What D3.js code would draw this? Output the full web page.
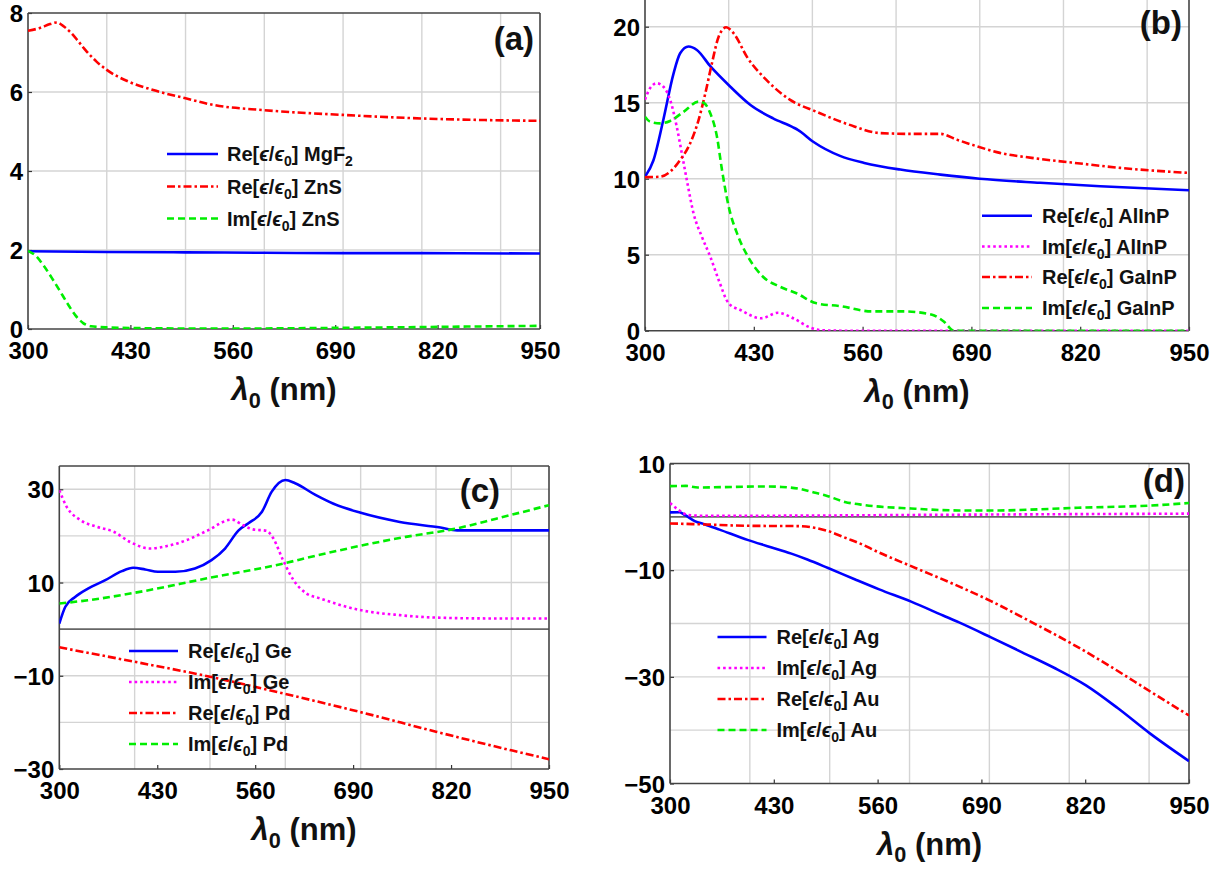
<!DOCTYPE html>
<html><head><meta charset="utf-8">
<script src="https://cdn.jsdelivr.net/npm/d3@7"></script>
<style>body{margin:0;background:#fff}svg{display:block}</style>
</head><body>
<svg id="chart" width="1225" height="871"></svg>
<script>
// ---------------- DATA ----------------
const xTicks = [300, 430, 560, 690, 820, 950];
const xGrid = [400, 500, 600, 700, 800, 900];

const aYTicks = [0, 2, 4, 6, 8];
const aYGrid = [2, 4, 6];
const bYTicks = [0, 5, 10, 15, 20];
const bYGrid = [5, 10, 15, 20];
const cYTicks = [-30, -10, 10, 30];
const cYGrid = [-20, -10, 10, 20, 30];
const dYTicks = [-50, -30, -10, 10];
const dYGrid = [-40, -30, -20, -10];

// (a)
const reMgF2 = [[300,1.97],[400,1.95],[500,1.94],[600,1.93],[700,1.92],[800,1.92],[950,1.91]];
const reZnS = [[300,7.55],[315,7.62],[328,7.72],[337,7.76],[346,7.65],[355,7.49],[364,7.28],[373,7.06],[387,6.77],[400,6.56],[428,6.26],[459,6.05],[500,5.84],[536,5.67],[600,5.54],[700,5.42],[800,5.33],[880,5.29],[950,5.27]];
const imZnS = [[300,1.98],[310,1.85],[320,1.6],[330,1.3],[340,0.98],[350,0.65],[360,0.35],[370,0.15],[380,0.07],[400,0.04],[450,0.02],[550,0.01],[700,0.03],[850,0.06],[950,0.08]];

// (b)
const reAlInP = [[300,10.13],[310,11.2],[322,13.9],[334,16.9],[342,18.25],[352,18.7],[362,18.47],[378,17.4],[402,16.05],[426,14.85],[453,13.97],[477,13.38],[483,13.2],[501,12.43],[533,11.5],[562,11.04],[605,10.6],[653,10.27],[700,10.0],[772,9.73],[844,9.5],[950,9.24]];
const imAlInP = [[300,15.2],[306,15.95],[314,16.28],[322,16.05],[330,15.2],[338,13.4],[344,11.67],[350,9.9],[358,7.72],[368,6.18],[378,4.87],[388,3.34],[400,1.8],[414,1.36],[439,0.82],[459,1.18],[477,0.82],[497,0.22],[511,0.03],[540,0],[700,0],[950,0]];
const reGaInP = [[300,10.1],[318,10.13],[330,10.46],[342,11.23],[354,12.33],[364,13.86],[372,15.6],[380,17.6],[388,19.34],[397,19.96],[406,19.56],[422,18.0],[445,16.5],[473,15.2],[505,14.4],[543,13.57],[581,13.0],[619,12.95],[653,12.95],[672,12.58],[696,12.14],[724,11.7],[762,11.37],[820,11.0],[868,10.71],[950,10.38]];
const imGaInP = [[300,14.08],[306,13.75],[318,13.64],[330,13.8],[346,14.4],[364,15.07],[370,15.0],[378,14.3],[386,12.76],[392,10.57],[400,8.16],[410,6.4],[423,4.87],[441,3.55],[461,2.9],[481,2.46],[505,1.8],[533,1.62],[571,1.27],[609,1.27],[643,1.05],[657,0.61],[669,0],[700,0],[950,0]];

// (c)
const reGe = [[300,1.2],[308,4.8],[321,6.9],[338,8.7],[361,10.5],[383,12.45],[398,13.16],[414,12.8],[431,12.3],[454,12.3],[480,13.0],[502,14.8],[520,17.3],[538,21.2],[551,22.7],[569,25.2],[582,29.5],[600,32.0],[613,31.3],[640,28.8],[664,26.9],[699,25.0],[752,23.0],[806,21.8],[828,21.2],[860,21.2],[950,21.2]];
const imGe = [[300,29.8],[310,26.2],[328,23.4],[350,21.95],[372,20.9],[394,18.7],[420,17.3],[442,17.8],[469,19.1],[496,21.1],[529,23.5],[544,22.3],[557,21.4],[575,21.1],[584,19.5],[597,14.8],[611,10.5],[628,7.66],[646,6.6],[699,4.1],[752,3.0],[797,2.5],[870,2.3],[950,2.3]];
const rePd = [[300,-3.9],[400,-7.0],[500,-10.2],[600,-13.9],[700,-17.8],[800,-22.0],[900,-26.0],[950,-27.9]];
const imPd = [[300,5.5],[338,6.2],[400,7.8],[496,10.9],[598,14.1],[620,14.96],[700,17.9],[760,19.8],[823,21.46],[880,23.7],[950,26.6]];

// (d)
const reAg = [[300,0.83],[312,0.85],[319,0.32],[331,-0.8],[344,-1.43],[362,-2.4],[398,-4.37],[422,-5.5],[452,-6.9],[472,-8.0],[498,-9.6],[532,-11.75],[562,-13.6],[602,-15.9],[642,-18.5],[662,-19.8],[702,-22.6],[741,-25.4],[781,-28.3],[821,-31.6],[861,-35.9],[901,-40.6],[950,-45.8]];
const imAg = [[300,2.6],[311,1.26],[323,0.32],[340,0.2],[450,0.22],[600,0.35],[800,0.5],[950,0.6]];
const reAu = [[300,-1.24],[344,-1.43],[398,-1.68],[460,-1.74],[481,-2.05],[498,-2.67],[519,-3.9],[544,-5.4],[552,-6.0],[602,-9.25],[652,-12.4],[702,-15.8],[751,-19.6],[801,-23.6],[851,-28.0],[901,-32.7],[950,-37.25]];
const imAu = [[300,5.76],[320,5.8],[335,5.5],[377,5.6],[419,5.7],[440,5.6],[460,5.3],[482,4.5],[494,4.06],[519,2.8],[544,2.2],[602,1.56],[662,1.2],[712,1.2],[761,1.4],[811,1.7],[861,1.9],[901,2.1],[950,2.6]];

// ---------------- STYLES ----------------
const STY = {
  blue:    {color: "#0000ff", dash: null},
  magenta: {color: "#ff00ff", dash: "2.6,3"},
  red:     {color: "#ff0000", dash: "8,3,2.5,3"},
  green:   {color: "#00ee00", dash: "7,4"}
};

function lab(pre, mat, matSub) {
  const p = [{t: pre + "["}, {t:"\u03F5", it:true}, {t:"/"}, {t:"\u03F5", it:true}, {t:"0", sub:true}, {t:"] " + mat}];
  if (matSub) p.push({t: matSub, sub:true});
  return p;
}

const panels = [
  {id:"(a)", x0:28, x1:540, yb:329, yt:13, dom:[0,8], yTicks:aYTicks, yGrid:aYGrid, zero:false,
   tag:[534,50],
   leg:{lx:[167,218], tx:227, ys:[154,186.5,218.5]},
   series:[
     {d:reMgF2, s:"blue", lab:lab("Re","MgF","2")},
     {d:reZnS, s:"red", lab:lab("Re","ZnS")},
     {d:imZnS, s:"green", lab:lab("Im","ZnS")}
   ]},
  {id:"(b)", x0:645, x1:1189, yb:330.7, yt:330.7-22*15.2, dom:[0,22], yTicks:bYTicks, yGrid:bYGrid, zero:false,
   tag:[1182,34], noTop:true,
   leg:{lx:[982,1032], tx:1042, ys:[215.7,246.5,277,308]},
   series:[
     {d:reAlInP, s:"blue", lab:lab("Re","AlInP")},
     {d:imAlInP, s:"magenta", lab:lab("Im","AlInP")},
     {d:reGaInP, s:"red", lab:lab("Re","GaInP")},
     {d:imGaInP, s:"green", lab:lab("Im","GaInP")}
   ]},
  {id:"(c)", x0:59.3, x1:549, yb:769, yt:466, dom:[-30,35], yTicks:cYTicks, yGrid:cYGrid, zero:true,
   tag:[500,502],
   leg:{lx:[129,178], tx:188, ys:[651,682,713,744]},
   series:[
     {d:reGe, s:"blue", lab:lab("Re","Ge")},
     {d:imGe, s:"magenta", lab:lab("Im","Ge")},
     {d:rePd, s:"red", lab:lab("Re","Pd")},
     {d:imPd, s:"green", lab:lab("Im","Pd")}
   ]},
  {id:"(d)", x0:670, x1:1189, yb:783.5, yt:463.5, dom:[-50,10], yTicks:dYTicks, yGrid:dYGrid, zero:true,
   tag:[1185,492],
   leg:{lx:[717.5,766.5], tx:776.5, ys:[637,668,699,730]},
   series:[
     {d:reAg, s:"blue", lab:lab("Re","Ag")},
     {d:imAg, s:"magenta", lab:lab("Im","Ag")},
     {d:reAu, s:"red", lab:lab("Re","Au")},
     {d:imAu, s:"green", lab:lab("Im","Au")}
   ]}
];

const FONT = "'Liberation Sans', Arial, 'DejaVu Sans', sans-serif";
const svg = d3.select("#chart");
svg.append("rect").attr("width",1225).attr("height",871).attr("fill","#fff");

function richText(sel, parts, size) {
  parts.forEach((p, i) => {
    const ts = sel.append("tspan").text(p.t);
    if (p.it) ts.attr("font-style","italic");
    if (p.sub) {
      ts.attr("font-size", size*0.7).attr("dy", size*0.25);
    } else if (i > 0 && parts[i-1].sub) {
      ts.attr("dy", -size*0.25);
    }
  });
}

panels.forEach((P, pi) => {
  const x = d3.scaleLinear().domain([300,950]).range([P.x0, P.x1]);
  const y = d3.scaleLinear().domain(P.dom).range([P.yb, P.yt]);
  const g = svg.append("g");
  const clipId = "clip" + pi;
  svg.append("clipPath").attr("id", clipId).append("rect")
    .attr("x", P.x0).attr("y", Math.max(0, P.yt)).attr("width", P.x1 - P.x0).attr("height", P.yb - Math.max(0, P.yt));

  // grid
  g.selectAll(".vg").data(xGrid).enter().append("line")
    .attr("x1", d => x(d)).attr("x2", d => x(d)).attr("y1", P.yb).attr("y2", Math.max(0,P.yt))
    .attr("stroke", "#d4d4d4").attr("stroke-width", 1.4);
  g.selectAll(".hg").data(P.yGrid).enter().append("line")
    .attr("x1", P.x0).attr("x2", P.x1).attr("y1", d => y(d)).attr("y2", d => y(d))
    .attr("stroke", "#d4d4d4").attr("stroke-width", 1.4);

  if (P.zero) {
    g.append("line").attr("x1", P.x0).attr("x2", P.x1).attr("y1", y(0)).attr("y2", y(0))
      .attr("stroke", "#666").attr("stroke-width", 1.8);
  }

  // axes via d3
  const xAxis = d3.axisBottom(x).tickValues(xTicks).tickSize(-4).tickPadding(0).tickFormat(d3.format("d"));
  const ax = g.append("g").attr("transform", `translate(0,${P.yb})`).call(xAxis);
  ax.select(".domain").remove();
  ax.selectAll(".tick line").attr("stroke", "#333").attr("stroke-width", 1.2);
  ax.selectAll(".tick text").attr("font-family", FONT).attr("font-weight", "bold").attr("font-size", 24)
    .attr("fill", "#000").attr("dy", null).attr("y", 30);

  const yAxis = d3.axisLeft(y).tickValues(P.yTicks).tickSize(-4).tickPadding(0)
    .tickFormat(d => d < 0 ? "\u2212" + Math.abs(d) : String(d));
  const ay = g.append("g").attr("transform", `translate(${P.x0},0)`).call(yAxis);
  ay.select(".domain").remove();
  ay.selectAll(".tick line").attr("stroke", "#333").attr("stroke-width", 1.2);
  ay.selectAll(".tick text").attr("font-family", FONT).attr("font-weight", "bold").attr("font-size", 24)
    .attr("fill", "#000").attr("x", -5).attr("dy", "0.36em");

  // frame
  const fr = "#444";
  g.append("line").attr("x1", P.x0).attr("x2", P.x0).attr("y1", P.yb).attr("y2", Math.max(0,P.yt)).attr("stroke", fr).attr("stroke-width", 1.6);
  g.append("line").attr("x1", P.x1).attr("x2", P.x1).attr("y1", P.yb).attr("y2", Math.max(0,P.yt)).attr("stroke", fr).attr("stroke-width", 1.6);
  g.append("line").attr("x1", P.x0).attr("x2", P.x1).attr("y1", P.yb).attr("y2", P.yb).attr("stroke", fr).attr("stroke-width", 1.6);
  if (!P.noTop) g.append("line").attr("x1", P.x0).attr("x2", P.x1).attr("y1", P.yt).attr("y2", P.yt).attr("stroke", fr).attr("stroke-width", 1.6);

  // curves
  const line = d3.line().x(d => x(d[0])).y(d => y(d[1])).curve(d3.curveMonotoneX);
  const cg = g.append("g").attr("clip-path", `url(#${clipId})`);
  P.series.forEach(s => {
    const st = STY[s.s];
    cg.append("path").datum(s.d).attr("d", line).attr("fill", "none")
      .attr("stroke", st.color).attr("stroke-width", 2.6)
      .attr("stroke-dasharray", st.dash);
  });

  // legend
  P.series.forEach((s, i) => {
    const st = STY[s.s];
    const yy = P.leg.ys[i];
    g.append("line").attr("x1", P.leg.lx[0]).attr("x2", P.leg.lx[1]).attr("y1", yy).attr("y2", yy)
      .attr("stroke", st.color).attr("stroke-width", 2.6).attr("stroke-dasharray", st.dash);
    const t = g.append("text").attr("x", P.leg.tx).attr("y", yy + 7)
      .attr("font-family", FONT).attr("font-weight", "bold").attr("font-size", 20).attr("fill", "#111");
    richText(t, s.lab, 20);
  });

  // panel tag
  g.append("text").attr("x", P.tag[0]).attr("y", P.tag[1]).attr("text-anchor", "end")
    .attr("font-family", FONT).attr("font-weight", "bold").attr("font-size", 33).attr("fill", "#111").text(P.id);

  // axis title
  const tt = g.append("text").attr("x", (P.x0 + P.x1) / 2).attr("y", P.yb + 71).attr("text-anchor", "middle")
    .attr("font-family", FONT).attr("font-weight", "bold").attr("font-size", 31).attr("fill", "#111");
  richText(tt, [{t:"\u03BB", it:true}, {t:"0", sub:true}, {t:" (nm)"}], 31);
});
</script>
</body></html>
